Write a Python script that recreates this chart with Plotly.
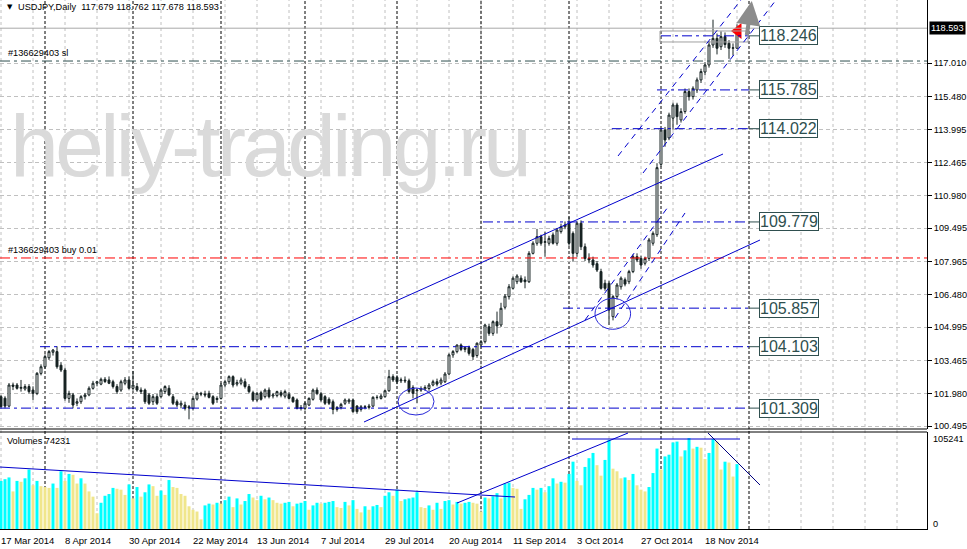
import plotly.graph_objects as go
import pandas as pd

# ---------------- data ----------------
first_day = "2014-03-17"
n_bars = 185
bar_dates = pd.bdate_range(first_day, periods=n_bars)

opens = [101.83, 101.76, 101.40, 102.36, 102.36, 102.21, 102.18, 102.29, 102.13, 101.98,
         102.89, 103.19, 103.60, 103.85, 103.88, 103.26, 103.04, 101.75, 101.91, 101.53,
         101.60, 101.83, 101.91, 102.21, 102.44, 102.40, 102.62, 102.59, 102.51, 102.29,
         102.13, 102.44, 102.59, 102.21, 102.29, 102.13, 102.13, 101.91, 101.60, 101.83,
         101.83, 102.06, 102.21, 101.83, 101.60, 101.45, 101.45, 101.37, 101.30, 101.72,
         101.98, 101.95, 101.98, 101.83, 101.70, 101.75, 102.36, 102.51, 102.74, 102.40,
         102.44, 102.51, 102.29, 102.01, 101.68, 102.01, 101.83, 102.13, 101.86, 101.88,
         102.01, 101.85, 101.94, 101.79, 101.68, 101.34, 101.30, 101.45, 101.71, 102.13,
         101.96, 101.83, 101.71, 101.60, 101.25, 101.34, 101.53, 101.60, 101.68, 101.40,
         101.25, 101.34, 101.34, 101.40, 101.79, 101.75, 101.83, 102.10, 102.74, 102.71,
         102.55, 102.58, 102.55, 102.25, 102.10, 102.13, 102.18, 102.20, 102.36, 102.51,
         102.45, 102.51, 102.86, 103.73, 103.88, 104.18, 103.98, 104.06, 103.98, 103.70,
         104.18, 104.33, 105.01, 104.71, 105.24, 105.09, 105.90, 106.38, 106.76, 107.06,
         107.22, 107.14, 107.06, 108.35, 108.81, 109.11, 108.85, 108.81, 109.19, 108.81,
         109.34, 109.56, 109.72, 109.26, 108.35, 109.72, 108.65, 108.12, 108.05, 107.88,
         107.52, 106.99, 106.99, 105.47, 106.38, 106.83, 107.15, 107.06, 107.52, 108.20,
         108.12, 107.90, 108.12, 108.81, 109.20, 112.40, 113.96, 113.60, 114.50, 115.10,
         114.42, 114.80, 115.71, 115.48, 115.78, 116.24, 116.60, 116.92, 117.83, 118.13,
         117.75, 118.21, 117.91, 117.68, 117.679]
highs = [101.90, 101.85, 102.45, 102.47, 102.45, 102.59, 102.40, 102.40, 102.30, 102.95,
         103.30, 103.75, 103.95, 104.00, 104.12, 103.40, 103.15, 102.10, 102.00, 101.75,
         101.90, 102.00, 102.30, 102.55, 102.55, 102.70, 102.72, 102.75, 102.60, 102.40,
         102.60, 102.72, 102.75, 103.00, 102.45, 102.25, 102.20, 102.00, 101.95, 101.95,
         102.20, 102.35, 102.35, 101.95, 101.70, 101.65, 101.60, 101.45, 101.85, 102.05,
         102.05, 102.10, 102.10, 101.90, 101.85, 102.45, 102.60, 102.80, 102.80, 102.60,
         102.70, 102.65, 102.40, 102.10, 102.05, 102.10, 102.20, 102.25, 102.00, 102.10,
         102.12, 102.15, 102.05, 101.85, 101.75, 101.45, 101.60, 101.80, 102.20, 102.25,
         102.05, 101.90, 101.80, 101.70, 101.40, 101.55, 101.75, 101.75, 101.75, 101.45,
         101.45, 101.45, 101.50, 101.85, 101.90, 101.95, 102.15, 103.05, 102.85, 102.80,
         102.70, 102.75, 102.65, 102.35, 102.20, 102.30, 102.35, 102.45, 102.60, 102.65,
         102.70, 102.95, 103.80, 103.95, 104.20, 104.25, 104.10, 104.15, 104.05, 104.30,
         104.40, 105.15, 105.15, 105.30, 105.70, 106.10, 106.50, 106.95, 107.30, 107.40,
         107.35, 107.30, 108.45, 108.90, 109.46, 109.20, 109.34, 109.15, 109.30, 109.50,
         109.70, 109.80, 110.02, 109.35, 109.80, 109.85, 108.80, 108.35, 108.20, 108.00,
         107.65, 107.15, 107.10, 106.45, 107.00, 107.30, 107.25, 107.60, 108.30, 108.35,
         108.25, 108.20, 109.05, 109.35, 112.45, 114.05, 114.10, 114.75, 115.20, 115.20,
         114.95, 115.85, 115.85, 115.95, 116.35, 116.75, 117.05, 118.00, 118.98, 118.35,
         118.45, 118.40, 118.05, 117.90, 118.762]
lows = [101.30, 101.30, 101.35, 102.13, 102.15, 102.06, 102.10, 101.98, 101.68, 101.90,
        102.80, 103.10, 103.50, 103.70, 103.10, 102.95, 101.65, 101.55, 101.30, 101.40,
        101.50, 101.70, 101.85, 102.15, 102.30, 102.35, 102.45, 102.40, 102.20, 101.95,
        102.05, 102.35, 102.15, 102.10, 102.05, 101.95, 101.50, 101.45, 101.45, 101.45,
        101.75, 101.95, 101.85, 101.45, 101.35, 101.30, 101.20, 100.80, 101.20, 101.65,
        101.85, 101.80, 101.75, 101.45, 101.55, 101.70, 102.25, 102.40, 102.25, 102.30,
        102.35, 102.20, 101.98, 101.60, 101.60, 101.65, 101.75, 101.75, 101.75, 101.80,
        101.80, 101.75, 101.70, 101.55, 101.25, 101.20, 101.20, 101.40, 101.65, 101.90,
        101.60, 101.45, 101.45, 101.03, 101.15, 101.25, 101.45, 101.50, 101.10, 101.05,
        101.15, 101.25, 101.25, 101.35, 101.70, 101.70, 101.78, 102.05, 102.50, 102.40,
        102.45, 102.45, 101.98, 101.75, 101.53, 102.05, 102.10, 102.10, 102.30, 102.30,
        102.35, 102.45, 102.80, 103.60, 103.80, 103.90, 103.85, 103.70, 103.50, 103.60,
        104.10, 104.25, 104.60, 104.60, 104.70, 105.00, 105.80, 106.25, 106.70, 106.95,
        107.00, 106.76, 107.00, 108.30, 108.70, 108.70, 108.20, 108.70, 108.75, 108.70,
        109.25, 109.45, 108.70, 107.97, 108.20, 108.50, 108.00, 107.90, 107.70, 107.50,
        106.70, 106.65, 105.09, 105.30, 106.25, 106.70, 106.85, 106.95, 107.45, 107.95,
        107.65, 107.80, 108.00, 108.70, 109.10, 112.30, 113.20, 113.50, 114.00, 114.20,
        114.30, 114.70, 115.30, 115.35, 115.65, 116.10, 116.45, 116.80, 117.70, 117.40,
        117.60, 117.70, 117.20, 117.35, 117.678]
closes = [101.38, 101.40, 102.36, 102.30, 102.21, 102.25, 102.29, 102.06, 101.98, 102.89,
          103.19, 103.65, 103.88, 103.95, 103.19, 103.04, 101.75, 101.98, 101.45, 101.60,
          101.83, 101.91, 102.21, 102.44, 102.51, 102.62, 102.52, 102.44, 102.29, 102.06,
          102.51, 102.59, 102.21, 102.36, 102.13, 102.06, 101.60, 101.53, 101.83, 101.53,
          102.13, 102.29, 101.91, 101.53, 101.45, 101.53, 101.30, 101.32, 101.75, 101.98,
          101.95, 101.91, 101.80, 101.53, 101.75, 102.36, 102.51, 102.74, 102.36, 102.47,
          102.59, 102.29, 102.06, 101.68, 101.98, 101.71, 102.13, 101.83, 101.91, 102.06,
          101.90, 102.06, 101.75, 101.60, 101.30, 101.30, 101.53, 101.75, 102.13, 101.98,
          101.68, 101.53, 101.53, 101.25, 101.34, 101.48, 101.68, 101.68, 101.15, 101.15,
          101.37, 101.37, 101.40, 101.80, 101.80, 101.86, 102.10, 102.74, 102.59, 102.51,
          102.59, 102.55, 102.06, 101.98, 102.13, 102.20, 102.25, 102.36, 102.51, 102.40,
          102.59, 102.86, 103.73, 103.88, 104.18, 103.98, 104.06, 103.80, 103.65, 104.26,
          104.33, 105.09, 104.71, 105.24, 105.05, 105.85, 106.40, 106.83, 107.22, 107.32,
          107.06, 107.06, 108.35, 108.81, 109.11, 108.81, 108.88, 109.03, 108.81, 109.41,
          109.56, 109.64, 108.81, 108.35, 109.72, 108.65, 108.12, 108.05, 107.82, 107.59,
          106.76, 106.76, 105.77, 106.38, 106.91, 107.22, 106.95, 107.52, 108.20, 108.05,
          107.82, 108.12, 108.96, 109.26, 112.25, 113.96, 113.51, 114.64, 115.10, 114.57,
          114.80, 115.71, 115.48, 115.86, 116.24, 116.62, 116.92, 117.83, 118.13, 117.68,
          118.21, 117.85, 117.68, 117.70, 118.593]
volumes = [55000, 57000, 59000, 43000, 55000, 54000, 58000, 68000, 50000, 55000,
           49000, 48000, 47000, 52000, 47000, 66000, 55000, 63000, 62000, 52000,
           58000, 52000, 43000, 37000, 18000, 30000, 38000, 40000, 47000, 46000,
           45000, 39000, 51000, 35000, 48000, 37000, 42000, 51000, 49000, 38000,
           44000, 39000, 56000, 48000, 47000, 40000, 38000, 26000, 22000, 20000,
           11000, 27000, 29000, 28000, 30000, 29000, 33000, 37000, 25000, 35000,
           28000, 32000, 40000, 36000, 33000, 38000, 34000, 36000, 33000, 30000,
           29000, 30000, 31000, 26000, 29000, 30000, 32000, 22000, 27000, 30000,
           29000, 30000, 31000, 32000, 25000, 24000, 31000, 27000, 33000, 23000,
           19000, 26000, 22000, 26000, 27500, 25000, 38000, 42000, 38000, 45000,
           32000, 34000, 35000, 36000, 42000, 25000, 24000, 27000, 22000, 30000,
           23000, 32000, 33000, 28000, 31000, 29000, 30000, 31000, 30000, 29000,
           20000, 36000, 35000, 37500, 41000, 35000, 52000, 53000, 47000, 46000,
           23000, 34000, 39000, 47000, 45000, 47000, 42000, 49000, 58000, 52000,
           54000, 53000, 63000, 77000, 55000, 50000, 71000, 81000, 87000, 73000,
           61000, 79000, 102000, 69000, 66000, 58000, 59000, 56000, 63000, 50000,
           45000, 43000, 48000, 64000, 92000, 68000, 83000, 85000, 99000, 100000,
           83000, 90000, 104000, 92000, 94000, 93000, 80000, 87000, 103000, 100000,
           68000, 77000, 76000, 60000, 74231]

price_ticks = [117.010, 115.480, 113.995, 112.465, 110.980, 109.495, 107.965,
               106.480, 104.995, 103.465, 101.980, 100.495]
volume_max_label = 105241
level_prices = [118.246, 115.785, 114.022, 109.779, 105.857, 104.103, 101.309]
level_start_bars = [165, 164, 152.7, 120.5, 140.5, 9.75, -0.25]
order_ticket = "#136629403"
buy_price = 108.14
sl_price = 117.10
watermark = "heliy-trading.ru"

# ---------------- geometry helpers ----------------
W, H = 967, 549
ML, MR, MT, MB = 0, 40, 0, 20
PW, PH = W - ML - MR, H - MT - MB   # 927 x 529
main_bottom_px = 429
vol_top_px = 432
X_RANGE = [-0.25, 231.5]
Y_RANGE = [100.359, 119.876]
V_RANGE = [0, 110958]


def pxx(px):
    return px / PW


def pxy(py):
    return (PH - py) / PH


last = n_bars - 1
future_sep = last + (pd.Timestamp("2014-12-01") - bar_dates[-1]).days  # MT4 future time
month_first = [i for i in range(1, n_bars) if bar_dates[i].month != bar_dates[i - 1].month]
month_first.append(future_sep)
label_bars = list(range(0, n_bars, 16))
grid_bars = list(range(0, 232, 8))

up_col = "#00FFFF"
dn_col = "#F0E68C"
vol_colors = [up_col] + [up_col if volumes[i] > volumes[i - 1] else dn_col for i in range(1, n_bars)]

CANDLE = "#162222"
idx = list(range(n_bars))
fig = go.Figure()
fig.add_trace(go.Candlestick(
    x=idx, open=opens, high=highs, low=lows, close=closes,
    xaxis="x", yaxis="y",
    increasing=dict(line=dict(color=CANDLE, width=1), fillcolor="#FFFFFF"),
    decreasing=dict(line=dict(color=CANDLE, width=1), fillcolor=CANDLE),
    whiskerwidth=0, hoverinfo="skip", showlegend=False))
fig.add_trace(go.Bar(x=idx, y=volumes, xaxis="x", yaxis="y2", width=0.75,
                     marker=dict(color=vol_colors, line=dict(width=0)),
                     hoverinfo="skip", showlegend=False))

shapes = []
annotations = []
BLUE = "#0000CD"

# vertical grid + period separators
for g in grid_bars:
    shapes.append(dict(type="line", xref="x", yref="paper", x0=g, x1=g, y0=0, y1=1,
                       line=dict(color="#C0C0C0", width=1, dash="3px,3px"), layer="below"))
for m in month_first:
    shapes.append(dict(type="line", xref="x", yref="paper", x0=m, x1=m, y0=0, y1=1,
                       line=dict(color="#000000", width=1, dash="3px,2px"), layer="below"))

# panel borders
shapes.append(dict(type="line", xref="paper", yref="paper", x0=0, x1=1,
                   y0=pxy(main_bottom_px), y1=pxy(main_bottom_px), line=dict(color="black", width=1)))
shapes.append(dict(type="line", xref="paper", yref="paper", x0=0, x1=1,
                   y0=pxy(vol_top_px), y1=pxy(vol_top_px), line=dict(color="black", width=1)))

# bid line, sl, buy
shapes.append(dict(type="line", xref="paper", yref="y", x0=0, x1=1, y0=closes[-1], y1=closes[-1],
                   line=dict(color="#A9A9A9", width=1)))
shapes.append(dict(type="line", xref="paper", yref="y", x0=0, x1=1, y0=sl_price, y1=sl_price,
                   line=dict(color="#2F4F4F", width=1, dash="10px,4px,3px,4px")))
shapes.append(dict(type="line", xref="paper", yref="y", x0=0, x1=1, y0=buy_price, y1=buy_price,
                   line=dict(color="#FF0000", width=1, dash="10px,4px,3px,4px")))

# horizontal price levels with labels
box_x = future_sep + 2.6
for p, s in zip(level_prices, level_start_bars):
    shapes.append(dict(type="line", xref="x", yref="y", x0=s, x1=future_sep, y0=p, y1=p,
                       line=dict(color=BLUE, width=1, dash="10px,4px,3px,4px")))
    shapes.append(dict(type="line", xref="x", yref="y", x0=future_sep, x1=box_x, y0=p, y1=p,
                       line=dict(color="#2F4F4F", width=1)))
    annotations.append(dict(x=box_x, y=p, xref="x", yref="y", text=f"{p:.3f}", showarrow=False,
                            xanchor="left", yanchor="middle",
                            font=dict(family="Liberation Sans, Arial", size=16, color="#2F4F4F"),
                            bgcolor="#FFFFFF", bordercolor="#2F4F4F", borderwidth=1, borderpad=0))

# grey rectangle around top level
shapes.append(dict(type="rect", xref="x", yref="y", x0=164.75, x1=future_sep - 0.25,
                   y0=117.966, y1=118.466, line=dict(color="#A0A0A0", width=1)))

# trend lines (main)
for (x0, y0, x1, y1, dash) in [
        (76.5, 104.362, 180.5, 112.870, "solid"),
        (90.75, 100.677, 189.75, 108.957, "solid"),
        (154.25, 112.779, 185.0, 119.876, "6px,5px"),
        (160.5, 112.005, 193.75, 119.876, "6px,5px"),
        (146.0, 105.318, 166.75, 110.459, "6px,5px"),
        (153.5, 105.409, 171.0, 110.186, "6px,5px")]:
    shapes.append(dict(type="line", xref="x", yref="y", x0=x0, y0=y0, x1=x1, y1=y1,
                       line=dict(color=BLUE, width=1, dash=dash)))

# ellipses
for (x0, x1, y0, y1) in [(99.25, 108.25, 100.995, 102.224), (148.5, 157.4, 104.895, 106.305)]:
    shapes.append(dict(type="circle", xref="x", yref="y", x0=x0, x1=x1, y0=y0, y1=y1,
                       line=dict(color="#2828D8", width=1)))

# volume panel lines
for (x0, y0, x1, y1, col) in [
        (-0.25, 70900, 128.5, 36600, BLUE),
        (114.0, 29700, 156.75, 109800, BLUE),
        (142.75, 102950, 184.75, 102950, BLUE),
        (176.75, 109800, 189.75, 50300, "#000080")]:
    shapes.append(dict(type="line", xref="x", yref="y2", x0=x0, y0=y0, x1=x1, y1=y1,
                       line=dict(color=col, width=1)))

# red arrow marker and grey arrow
fig.add_trace(go.Scatter(x=[184.25], y=[118.466], mode="markers", xaxis="x", yaxis="y",
                         marker=dict(symbol="triangle-left", size=14, color="#FF0000"),
                         hoverinfo="skip", showlegend=False))
annotations.append(dict(x=187.7, y=119.83, ax=186.4, ay=118.21, xref="x", yref="y",
                        axref="x", ayref="y", showarrow=True, arrowhead=2, arrowsize=1.2,
                        arrowwidth=4, arrowcolor="#8C8C8C", text=""))

# time labels
for b in label_bars:
    d = bar_dates[b]
    annotations.append(dict(x=b, y=0, xref="x", yref="paper", text=f"{d.day} {d:%b %Y}",
                            showarrow=False, xanchor="left", yanchor="middle", xshift=-2, yshift=-11,
                            font=dict(family="Liberation Sans, Arial", size=9.5, color="black")))

small = dict(family="Liberation Sans, Arial", size=9.2, color="black")
annotations += [
    dict(x=pxx(5), y=pxy(7), xref="paper", yref="paper", text="\u25BC", showarrow=False,
         xanchor="left", yanchor="middle", font=dict(family="DejaVu Sans", size=7, color="black")),
    dict(x=pxx(16), y=pxy(7), xref="paper", yref="paper",
         text=f"USDJPY,Daily  {opens[-1]:.3f} {highs[-1]:.3f} {lows[-1]:.3f} {closes[-1]:.3f}",
         showarrow=False, xanchor="left", yanchor="middle", font=small),
    dict(x=pxx(6), y=sl_price, xref="paper", yref="y", text=f"{order_ticket} sl", showarrow=False,
         xanchor="left", yanchor="bottom", yshift=1, font=small),
    dict(x=pxx(6), y=buy_price, xref="paper", yref="y", text=f"{order_ticket} buy 0.01", showarrow=False,
         xanchor="left", yanchor="bottom", yshift=1, font=small),
    dict(x=pxx(5), y=pxy(441), xref="paper", yref="paper", text=f"Volumes {volumes[-1]}",
         showarrow=False, xanchor="left", yanchor="middle", font=small),
    dict(x=1, y=pxy(439), xref="paper", yref="paper", text=str(volume_max_label), showarrow=False,
         xanchor="left", yanchor="middle", xshift=4, font=small),
    dict(x=1, y=pxy(524), xref="paper", yref="paper", text="0", showarrow=False,
         xanchor="left", yanchor="middle", xshift=4, font=small),
    dict(x=1, y=closes[-1], xref="paper", yref="y", text=f"{closes[-1]:.3f}", showarrow=False,
         xanchor="left", yanchor="middle", xshift=2, bgcolor="#000000", borderpad=1,
         font=dict(family="Liberation Sans, Arial", size=9.2, color="white")),
    dict(x=pxx(8), y=pxy(146), xref="paper", yref="paper",
         text=f'<span style="letter-spacing:-4px">{watermark}</span>', showarrow=False,
         xanchor="left", yanchor="middle",
         font=dict(family="Liberation Sans, Arial", size=88, color="#DADADA")),
]

fig.update_layout(
    width=W, height=H, margin=dict(l=ML, r=MR, t=MT, b=MB),
    plot_bgcolor="white", paper_bgcolor="white", showlegend=False,
    shapes=shapes, annotations=annotations,
    xaxis=dict(domain=[0, 1], range=X_RANGE, anchor="y2", showgrid=False, zeroline=False,
               showticklabels=False, ticks="", showline=True, linecolor="black", linewidth=1,
               rangeslider=dict(visible=False), fixedrange=True),
    yaxis=dict(domain=[pxy(main_bottom_px), 1], range=Y_RANGE, anchor="x", side="right",
               tickvals=price_ticks, ticktext=[f"{t:.3f}" for t in price_ticks],
               ticks="outside", ticklen=4, tickcolor="black", showline=True, linecolor="black",
               showgrid=True, gridcolor="#C0C0C0", griddash="4px,3px", zeroline=False,
               tickfont=dict(family="Liberation Sans, Arial", size=9.2, color="black"), fixedrange=True),
    yaxis2=dict(domain=[0, pxy(vol_top_px)], range=V_RANGE, anchor="x", side="right",
                showticklabels=False, ticks="", showgrid=False, showline=True, linecolor="black",
                zeroline=False, fixedrange=True),
)

fig.write_html("out.html", config={"staticPlot": True},
               post_script="document.body.style.margin='0';document.body.style.overflow='hidden';")
